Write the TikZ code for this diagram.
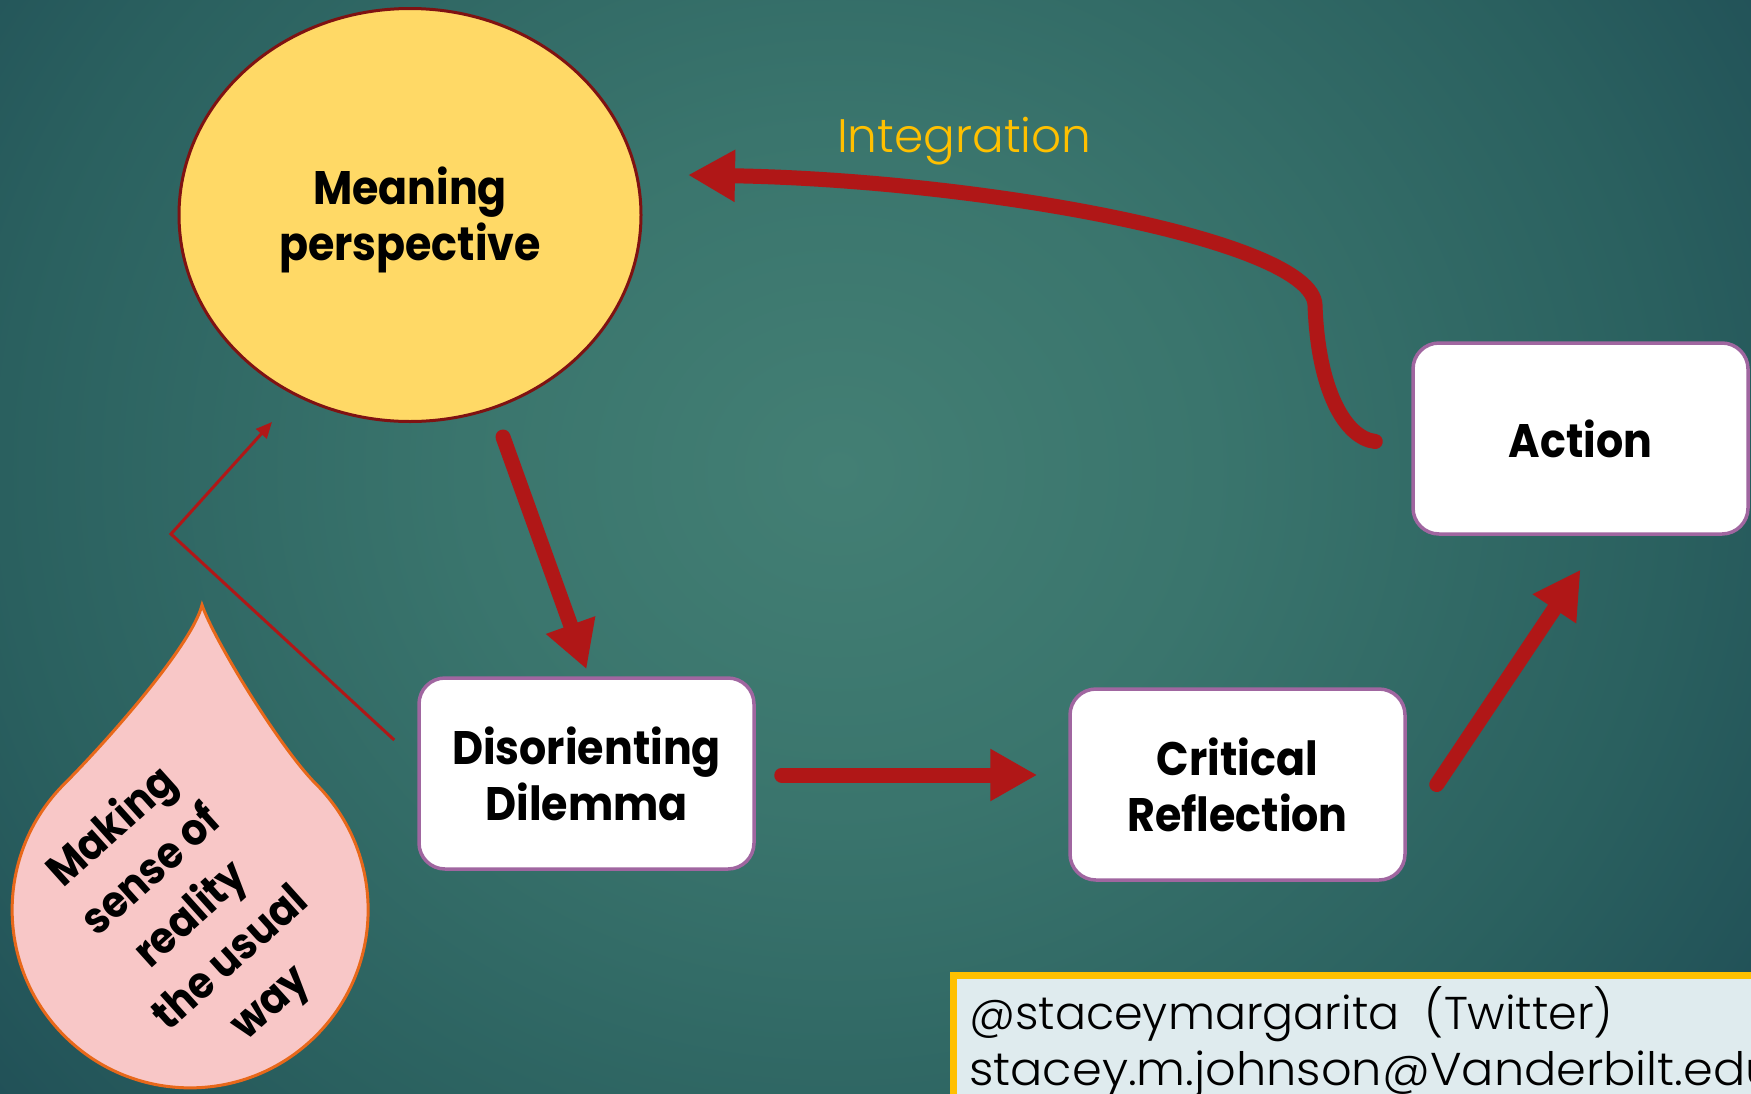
\documentclass[tikz,border=0pt]{standalone}
\usepackage{fontspec}
\setmainfont{Poppins}[BoldFeatures={FakeStretch=0.91}]
\newfontfamily\lightfont{Poppins Light}
\usetikzlibrary{arrows.meta,calc,shapes.geometric}
\definecolor{bgc}{HTML}{437F74}
\definecolor{bgm}{HTML}{3A756D}
\definecolor{bgn}{HTML}{2A605F}
\definecolor{bgd}{HTML}{1C4853}
\definecolor{bgo}{HTML}{163E4B}
\definecolor{arrred}{HTML}{B01717}
\definecolor{mpfill}{HTML}{FFD966}
\definecolor{mpdraw}{HTML}{7F1212}
\definecolor{boxdraw}{HTML}{A066A0}
\definecolor{dropfill}{HTML}{F8C7C7}
\definecolor{dropdraw}{HTML}{E8681A}
\definecolor{integ}{HTML}{FFC000}
\definecolor{infofill}{HTML}{DFEBEE}
\pgfdeclareradialshading{bgshade}{\pgfpoint{0bp}{0bp}}{color(0bp)=(bgc); color(8.5bp)=(bgm); color(19bp)=(bgn); color(28bp)=(bgd); color(35bp)=(bgo); color(50bp)=(bgo)}
\tikzset{
  bigfont/.style={font=\bfseries\fontsize{47}{56}\selectfont},
  stagebox/.style={draw=boxdraw, fill=white, line width=3.5pt, rounded corners=26pt,
    minimum width=335pt, minimum height=191pt, align=center, inner sep=0pt, bigfont},
  bigarrow/.style={draw=arrred, line width=15pt, line cap=round,
    -{Triangle[length=47pt,width=49pt]}},
  thinarrow/.style={draw=arrred, line width=3pt, -{Triangle[length=16pt,width=14pt]}},
  infotext/.style={anchor=base west, inner sep=0pt, font=\lightfont\fontsize{46}{54}\selectfont}
}
\begin{document}
\begin{tikzpicture}[x=1pt,y=-1pt]
\useasboundingbox (0,0) rectangle (1751,1093);
\clip (0,0) rectangle (1751,1093);
\fill[shading=bgshade] (-262,-530) rectangle (1938,1470);

% nodes
\node[ellipse, draw=mpdraw, fill=mpfill, line width=3pt, minimum width=462pt,
  minimum height=413pt, inner sep=0pt] (mp) at (410,215) {};
\node[align=center, inner sep=0pt, bigfont] (mptext) at (410,220) {Meaning\\perspective};
\node[stagebox] (dd) at (586.5,773.5) {Disorienting\\Dilemma};
\node[stagebox] (cr) at (1237.5,784.5) {Critical\\Reflection};
\node[stagebox] (ac) at (1580.5,438.5) {Action};

% teardrop
\draw[dropdraw, fill=dropfill, line width=3pt]
  (202,605) .. controls (214,640) and (280,748) .. (316,784)
  arc[start angle=-45, end angle=225, radius=178]
  .. controls (108,740) and (192,645) .. (202,605) -- cycle;
\node[rotate=42, align=center, inner sep=0pt, font=\bfseries\fontsize{44}{59}\selectfont] (drop) at (192,916)
  {Making\\sense of\\reality\\the usual\\way};

% connectors
\coordinate (a1s) at ($(mp.center)+(93,222)$);
\coordinate (a1e) at ($(dd.north)+(0,-7)$);
\draw[bigarrow] (a1s) -- (a1e);

\coordinate (a2s) at ($(dd.east)+(26,1.5)$);
\coordinate (a2e) at ($(cr.west)+(-31,-9.5)$);
\draw[bigarrow] (a2s) -- (a2e);

\coordinate (a3s) at ($(cr.east)+(30,0)$);
\coordinate (a3e) at ($(ac.south)+(0,34)$);
\draw[bigarrow] (a3s) -- (a3e);

\coordinate (a4s) at ($(ac.west)+(-36,3)$);
\coordinate (a4e) at ($(mp.center)+(278,-40)$);
\draw[bigarrow] (a4s) .. controls (1345,438) and (1318,390) .. (1315,305)
  .. controls (1312,240) and (980,180) .. (a4e);
\node[anchor=base west, inner sep=0pt, text=integ, font=\lightfont\fontsize{47}{56}\selectfont]
  (intlabel) at (837,152) {Integration};

\coordinate (t1) at ($(dd.west)+(-23,-33.5)$);
\coordinate (t2) at (171,534);
\coordinate (t3) at ($(mp.center)+(-138,207)$);
\draw[thinarrow] (t1) -- (t2) -- (t3);

% info box
\node[draw=integ, fill=infofill, line width=7pt, minimum width=830pt, minimum height=150pt,
  anchor=north west, inner sep=0pt] (info) at (950,972) {};
\node[infotext] (tw1) at (969,1029) {@staceymargarita\ \ (Twitter)};
\node[infotext, xscale=1.04] (tw2) at (969,1085) {stacey.m.johnson@Vanderbilt.edu};
\end{tikzpicture}
\end{document}
